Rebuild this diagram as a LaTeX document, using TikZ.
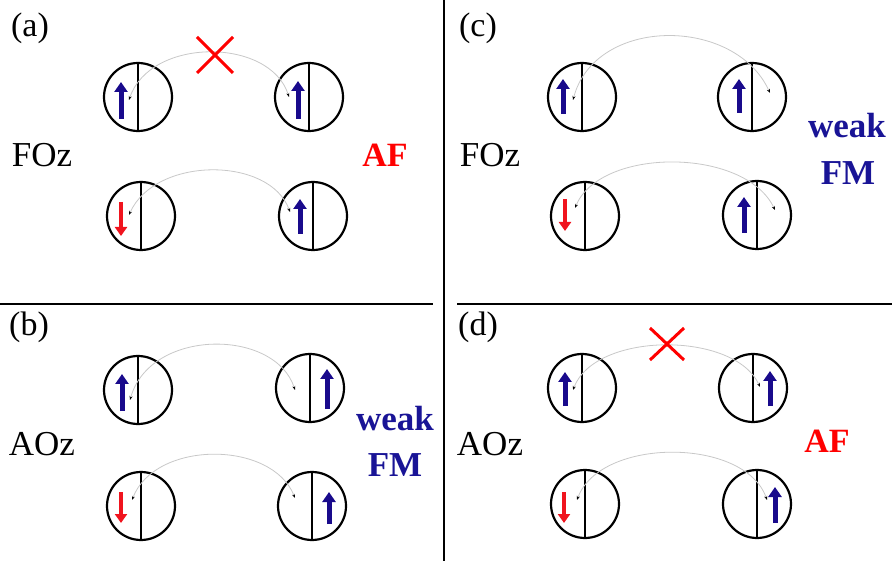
\documentclass[tikz,border=0pt]{standalone}
\usepackage{fontspec}
\setmainfont{Liberation Serif}
\newfontfamily\tms{Liberation Serif}
\usetikzlibrary{arrows.meta}
\definecolor{spinblue}{RGB}{25,10,140}
\definecolor{spinred}{RGB}{240,20,30}
\definecolor{labblue}{RGB}{25,20,150}
\definecolor{arcgray}{RGB}{200,200,200}
\tikzset{
  orb/.style={draw=black,line width=2.2pt,circle,minimum size=68pt,inner sep=0pt},
  divider/.style={line width=1.8pt,black},
  spinup/.style={line width=5pt,spinblue,-{Triangle[width=13pt,length=10pt]}},
  spindn/.style={line width=4.4pt,spinred,-{Triangle[width=12pt,length=9pt]}},
  hop/.style={line width=0.8pt,arcgray,{Stealth[length=4pt,width=3pt,color=black]}-{Stealth[length=4pt,width=3pt,color=black]}},
  cross/.style={line width=3pt,red},
  plab/.style={anchor=base,font=\tms\fontsize{34}{40}\selectfont},
  olab/.style={anchor=base,font=\tms\fontsize{35}{40}\selectfont},
  afl/.style={anchor=base,text=red,font=\tms\fontsize{34}{40}\selectfont\bfseries},
  fml/.style={anchor=base,text=labblue,font=\tms\fontsize{35}{40}\selectfont\bfseries},
}
\newcommand{\orbit}[3]{%
  \node[orb] (#1) at (#2,#3) {};
  \draw[line width=2.2pt] (#1.north) -- (#1.south);}
\begin{document}
\begin{tikzpicture}[x=1pt,y=-1pt]
\useasboundingbox (0,0) rectangle (892,561);
% dividers
\coordinate (vtop) at (444,0); \coordinate (vbot) at (444,561);
\coordinate (hl1) at (0,304); \coordinate (hl2) at (433,304);
\coordinate (hr1) at (457,304); \coordinate (hr2) at (892,304);
\draw[divider] (vtop) -- (vbot);
\draw[divider] (hl1) -- (hl2);
\draw[divider] (hr1) -- (hr2);
% ---------- (a)
\node[plab] (la) at (30,37) {(a)};
\node[olab] (foa) at (42,167) {FOz};
\node[afl] (afa) at (385,167) {AF};
\orbit{a1}{138}{97}\orbit{a2}{309}{97}\orbit{a3}{141}{216}\orbit{a4}{313}{216}
\draw[spinup] (121,119) -- (121,82);
\draw[spinup] (298,119) -- (298,81);
\draw[spindn] (121,202) -- (121,236);
\draw[spinup] (300,234) -- (300,199);
\coordinate (ha1) at (129,100); \coordinate (ha2) at (289,97);
\draw[hop] (ha1) .. controls (150,37) and (270,37) .. (ha2);
\coordinate (ha3) at (129,215); \coordinate (ha4) at (290,212);
\draw[hop] (ha3) .. controls (155,156) and (270,156) .. (ha4);
\coordinate (xa) at (215,55);
\draw[cross] ([shift={(-18,-18)}]xa) -- ([shift={(18,18)}]xa);
\draw[cross] ([shift={(18,-18)}]xa) -- ([shift={(-18,18)}]xa);
% ---------- (b)
\node[plab] (lb) at (29,336) {(b)};
\node[olab] (aob) at (42,455) {AOz};
\node[fml] (wb) at (395,430) {weak};
\node[fml] (fb) at (395,476) {FM};
\orbit{b1}{138}{390}\orbit{b2}{310}{388}\orbit{b3}{141}{506}\orbit{b4}{312}{506}
\draw[spinup] (122,411) -- (122,374);
\draw[spinup] (327,409) -- (327,369);
\draw[spindn] (121,492) -- (121,523);
\draw[spinup] (329,524) -- (329,492);
\coordinate (hb1) at (130,400); \coordinate (hb2) at (295,390);
\draw[hop] (hb1) .. controls (150,328) and (275,328) .. (hb2);
\coordinate (hb3) at (132,500); \coordinate (hb4) at (295,498);
\draw[hop] (hb3) .. controls (155,440) and (272,440) .. (hb4);
% ---------- (c)
\node[plab] (lc) at (478,37) {(c)};
\node[olab] (foc) at (490,167) {FOz};
\node[fml] (wc) at (847,138) {weak};
\node[fml] (fc) at (848,185) {FM};
\orbit{c1}{582}{97}\orbit{c2}{752}{97}\orbit{c3}{585}{216}\orbit{c4}{757}{215}
\draw[spinup] (563,114) -- (563,79);
\draw[spinup] (739,113) -- (739,79);
\draw[spindn] (565,199) -- (565,231);
\draw[spinup] (744,233) -- (744,197);
\coordinate (hc1) at (573,100); \coordinate (hc2) at (770,93);
\draw[hop] (hc1) .. controls (595,16) and (735,16) .. (hc2);
\coordinate (hc3) at (575,208); \coordinate (hc4) at (775,210);
\draw[hop] (hc3) .. controls (600,147) and (745,147) .. (hc4);
% ---------- (d)
\node[plab] (ld) at (478,336) {(d)};
\node[olab] (aod) at (490,455) {AOz};
\node[afl] (afd) at (827,452) {AF};
\orbit{d1}{582}{388}\orbit{d2}{753}{388}\orbit{d3}{585}{504}\orbit{d4}{757}{504}
\draw[spinup] (565,406) -- (565,372);
\draw[spinup] (770,406) -- (770,371);
\draw[spindn] (564,492) -- (564,523);
\draw[spinup] (775,523) -- (775,487);
\coordinate (hd1) at (573,390); \coordinate (hd2) at (760,387);
\draw[hop] (hd1) .. controls (595,331) and (735,331) .. (hd2);
\coordinate (hd3) at (577,500); \coordinate (hd4) at (767,500);
\draw[hop] (hd3) .. controls (600,437) and (745,437) .. (hd4);
\coordinate (xd) at (667,344);
\draw[cross] ([shift={(-17,-16)}]xd) -- ([shift={(17,16)}]xd);
\draw[cross] ([shift={(17,-16)}]xd) -- ([shift={(-17,16)}]xd);
\end{tikzpicture}
\end{document}
